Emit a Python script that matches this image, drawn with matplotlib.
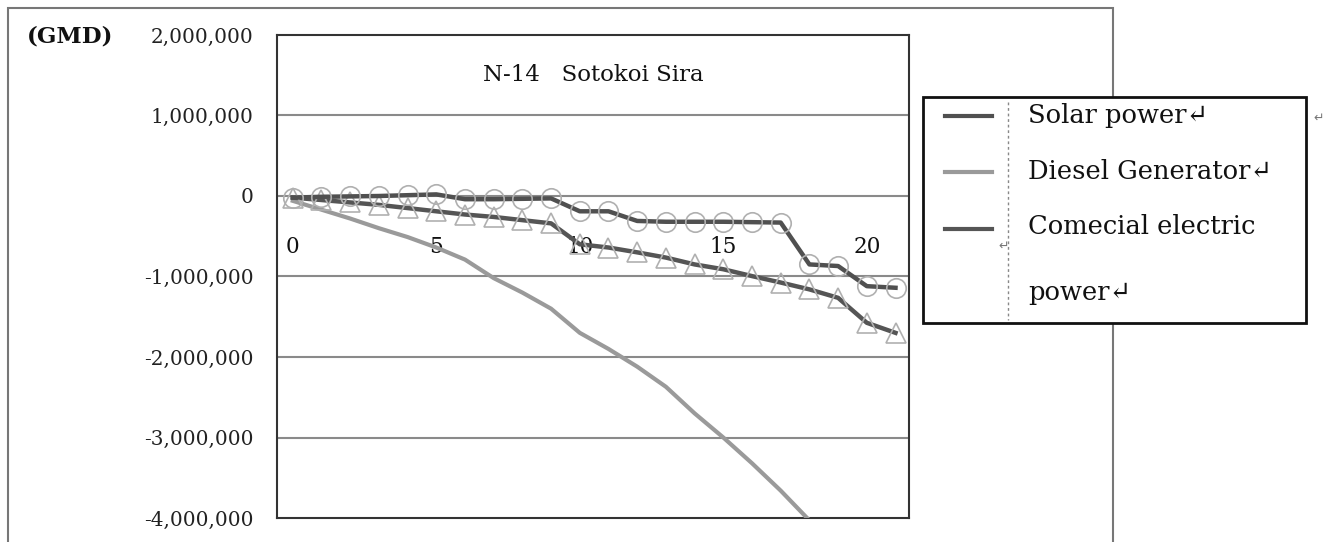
import matplotlib
matplotlib.use("Agg")
import matplotlib.pyplot as plt
from matplotlib.patches import Rectangle
from matplotlib.lines import Line2D

years = list(range(22))
solar = [-20000, -10000, -5000, 0, 10000, 20000, -40000, -40000, -35000, -30000,
         -190000, -190000, -310000, -320000, -320000, -320000, -325000, -330000,
         -850000, -870000, -1120000, -1140000]
diesel = [-60000, -170000, -280000, -400000, -510000, -640000, -790000, -1020000,
          -1200000, -1400000, -1700000, -1900000, -2120000, -2370000, -2700000,
          -3000000, -3320000, -3660000, -4030000]
commercial = [-20000, -50000, -80000, -110000, -150000, -190000, -230000, -260000,
              -300000, -340000, -600000, -640000, -700000, -765000, -850000, -910000,
              -995000, -1075000, -1160000, -1265000, -1575000, -1700000]
y_ticks = [2000000, 1000000, 0, -1000000, -2000000, -3000000, -4000000]
x_ticks = [0, 5, 10, 15, 20]
legend_labels = ["Solar power\u21b5", "Diesel Generator\u21b5",
                 "Comecial electric\n\npower\u21b5"]

plt.rcParams['font.family'] = ['DejaVu Serif', 'DejaVu Sans']

W, H = 1324, 542
fig = plt.figure(figsize=(W / 100, H / 100), dpi=100)

# outer chart frame
fig.patches.append(Rectangle((8 / W, -0.1), (1113 - 8) / W, (H - 8) / H + 0.1,
                             transform=fig.transFigure, fill=False,
                             edgecolor='#777777', linewidth=1.5))

ax = fig.add_axes([277 / W, (H - 518) / H, (909 - 277) / W, (518 - 35) / H])
ax.set_xlim(-0.55, 21.47)
ax.set_ylim(-4000000, 2000000)

for y in y_ticks[1:-1]:
    ax.axhline(y, color='#8a8a8a', linewidth=1.5, zorder=1)

ax.plot(years[:len(diesel)], diesel, color='#9a9a9a', linewidth=3, zorder=3)
ax.plot(years, commercial, color='#555555', linewidth=3.2, zorder=4,
        marker='^', markersize=15, markerfacecolor='none',
        markeredgecolor='#b0b0b0', markeredgewidth=1.2)
ax.plot(years, solar, color='#505050', linewidth=3.2, zorder=5,
        marker='o', markersize=14, markerfacecolor='none',
        markeredgecolor='#b0b0b0', markeredgewidth=1.2)

ax.set_yticks(y_ticks)
ax.set_yticklabels([f"{v:,}" for v in y_ticks], fontsize=14.5, color='#222222')
ax.tick_params(axis='y', length=0, pad=17)
ax.set_xticks([])
for s in ax.spines.values():
    s.set_color('#333333')
    s.set_linewidth(1.5)

sec = ax.secondary_xaxis(0, transform=ax.transData)
sec.set_xticks(x_ticks)
sec.set_xticklabels([str(v) for v in x_ticks], fontsize=15.5, color='#111111')
sec.tick_params(length=0, pad=29)
sec.spines['bottom'].set_visible(False)

ax.text(0.5, 0.917, "N-14   Sotokoi Sira", transform=ax.transAxes,
        ha='center', va='center', fontsize=16.5, color='#111111')
fig.text(27 / W, 1 - 36 / H, "(GMD)", fontsize=16.5, fontweight='bold',
         ha='left', va='center', color='#111111')

# legend box
lx0, ly0, lx1, ly1 = 923, 97, 1306, 323
fig.patches.append(Rectangle((lx0 / W, 1 - ly1 / H), (lx1 - lx0) / W, (ly1 - ly0) / H,
                             transform=fig.transFigure, facecolor='white',
                             edgecolor='#111111', linewidth=2, zorder=10))
fig.lines.append(Line2D([1008 / W, 1008 / W], [1 - 102 / H, 1 - 320 / H],
                        transform=fig.transFigure, color='#888888',
                        linestyle=(0, (2, 2)), linewidth=1, zorder=11))
sample_colors = ['#505050', '#9a9a9a', '#555555']
rows = [116, 172, 229]
for lab, col, yy in zip(legend_labels, sample_colors, rows):
    fig.lines.append(Line2D([945 / W, 992 / W], [1 - yy / H, 1 - yy / H],
                            transform=fig.transFigure, color=col, linewidth=3,
                            zorder=11))
    if '\n' in lab:
        fig.text(1028 / W, 1 - 260 / H, lab, fontsize=18.5, ha='left',
                 va='center', color='#111111', zorder=12, linespacing=1.4)
    else:
        fig.text(1028 / W, 1 - yy / H, lab, fontsize=18.5, ha='left',
                 va='center', color='#111111', zorder=12)

# stray paragraph marks from the source document
for (px, py) in [(998, 246), (1313, 118)]:
    fig.text(px / W, 1 - py / H, "\u21b5", fontsize=9, color='#777777',
             ha='left', va='center', family='DejaVu Sans', zorder=12)

fig.savefig("out.png", dpi=100)
